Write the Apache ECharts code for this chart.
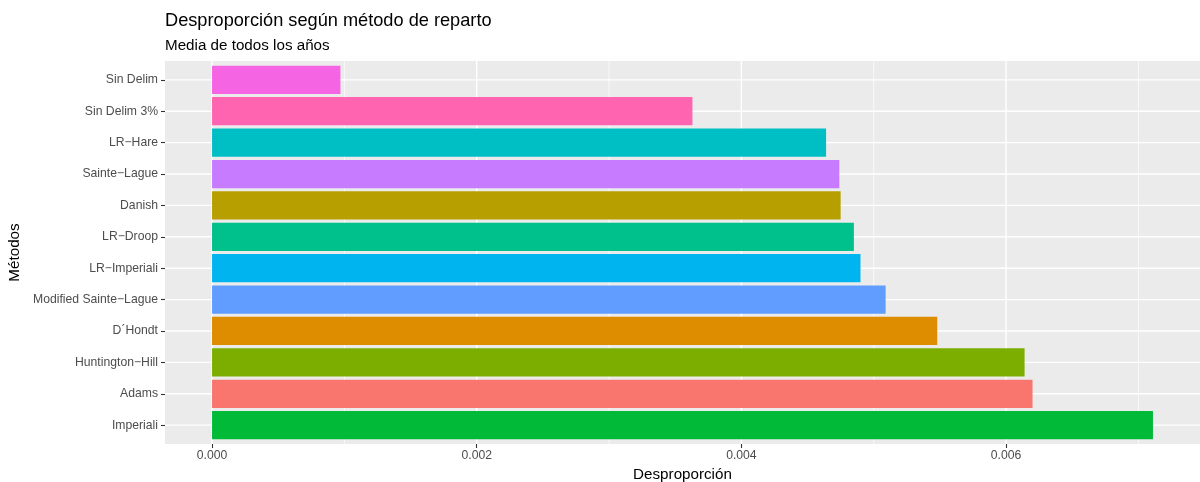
<!DOCTYPE html>
<html><head><meta charset="utf-8">
<script src="https://cdn.jsdelivr.net/npm/echarts@6/dist/echarts.min.js"></script>
<style>html,body{margin:0;padding:0;background:#fff}#c{width:1200px;height:482px}</style>
</head><body><div id="c"></div>
<script>
const categories = ['Imperiali','Adams','Huntington−Hill','D´Hondt','Modified Sainte−Lague','LR−Imperiali','LR−Droop','Danish','Sainte−Lague','LR−Hare','Sin Delim 3%','Sin Delim'];
const values = [0.00711,0.00620,0.00614,0.00548,0.00509,0.00490,0.00485,0.00475,0.00474,0.00464,0.00363,0.00097];
const colors = ['#00BA38','#F8766D','#7CAE00','#DE8C00','#619CFF','#00B4F0','#00C08B','#B79F00','#C77CFF','#00BFC4','#FF64B0','#F564E3'];
const xMajorTicks = [0,0.002,0.004,0.006];
const xMinorBreaks = [0.001,0.003,0.005,0.007];

const FONT = 'Liberation Sans, Arial, sans-serif';
const vmax = Math.max(...values);
const xMin = -0.05 * vmax, xMax = vmax * 1.05;
const panel = {left: 165, top: 61, width: 1035, height: 383};
const unit = panel.height / (categories.length + 0.2);
const barsTop = panel.top + unit * 0.1;
const barsHeight = unit * categories.length;

function vLine(width) {
  return (params, api) => {
    const v = api.value(0);
    const p1 = api.coord([v, 0]), p2 = api.coord([v, 1]);
    return {type: 'line', shape: {x1: p1[0], y1: p1[1], x2: p2[0], y2: p2[1]},
            style: {stroke: '#ffffff', lineWidth: width}};
  };
}
function hLine(width) {
  return (params, api) => {
    const i = api.value(0);
    const p1 = api.coord([xMin, i]), p2 = api.coord([xMax, i]);
    return {type: 'line', shape: {x1: p1[0], y1: p1[1], x2: p2[0], y2: p2[1]},
            style: {stroke: '#ffffff', lineWidth: width}};
  };
}

const chart = echarts.init(document.getElementById('c'), null, {renderer: 'canvas'});
chart.setOption({
  animation: false,
  backgroundColor: '#ffffff',
  title: [
    {text: 'Desproporción según método de reparto', left: 165, top: 12, padding: 0,
     textStyle: {fontFamily: FONT, fontSize: 18.2, fontWeight: 'normal', color: '#000'}},
    {text: 'Media de todos los años', left: 165, top: 38, padding: 0,
     textStyle: {fontFamily: FONT, fontSize: 15.2, fontWeight: 'normal', color: '#000'}}
  ],
  grid: [
    {left: panel.left, top: panel.top, width: panel.width, height: panel.height,
     show: true, backgroundColor: '#EBEBEB', borderWidth: 0, containLabel: false, outerBoundsMode: 'none'},
    {left: panel.left, top: barsTop, width: panel.width, height: barsHeight,
     show: false, containLabel: false, outerBoundsMode: 'none'}
  ],
  xAxis: [
    {type: 'value', gridIndex: 0, min: xMin, max: xMax,
     name: 'Desproporción', nameLocation: 'middle', nameGap: 20,
     nameTextStyle: {fontFamily: FONT, fontSize: 15.2, color: '#000'},
     axisLine: {show: true, onZero: false, lineStyle: {color: 'rgba(0,0,0,0)'}},
     axisTick: {show: true, length: 4, customValues: xMajorTicks, lineStyle: {color: '#333333', width: 1.1}},
     axisLabel: {customValues: xMajorTicks, formatter: v => v.toFixed(3), color: '#4D4D4D',
                 fontFamily: FONT, fontSize: 12.2, margin: 6},
     splitLine: {show: false}, minorSplitLine: {show: false}},
    {type: 'value', gridIndex: 1, min: xMin, max: xMax, show: false}
  ],
  yAxis: [
    {type: 'value', gridIndex: 0, min: 0, max: 1, show: false},
    {type: 'category', gridIndex: 1, data: categories,
     name: 'Métodos', nameLocation: 'middle', nameGap: 133, nameRotate: 90,
     nameTextStyle: {fontFamily: FONT, fontSize: 15.2, color: '#000'},
     axisLine: {show: true, onZero: false, lineStyle: {color: 'rgba(0,0,0,0)'}},
     axisTick: {show: true, length: 4, alignWithLabel: true, lineStyle: {color: '#333333', width: 1.1}},
     axisLabel: {color: '#4D4D4D', fontFamily: FONT, fontSize: 12.2, margin: 7},
     splitLine: {show: false}}
  ],
  series: [
    {type: 'custom', xAxisIndex: 0, yAxisIndex: 0, z: 1, silent: true,
     data: xMinorBreaks.map(v => [v]), encode: {x: 0}, renderItem: vLine(0.7)},
    {type: 'custom', xAxisIndex: 0, yAxisIndex: 0, z: 1, silent: true,
     data: xMajorTicks.map(v => [v]), encode: {x: 0}, renderItem: vLine(1.4)},
    {type: 'custom', xAxisIndex: 1, yAxisIndex: 1, z: 1, silent: true,
     data: categories.map((c, i) => [i]), encode: {y: 0}, renderItem: hLine(1.4)},
    {type: 'bar', xAxisIndex: 1, yAxisIndex: 1, z: 3, barCategoryGap: '10%',
     data: values.map((v, i) => ({value: v, itemStyle: {color: colors[i]}}))}
  ]
});
</script></body></html>
